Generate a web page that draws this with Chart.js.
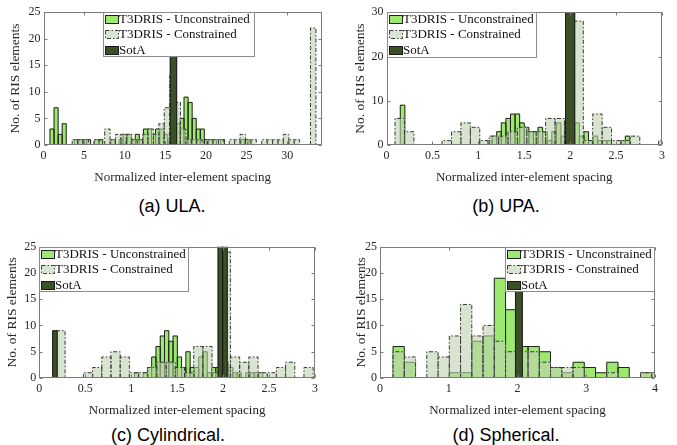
<!DOCTYPE html>
<html><head><meta charset="utf-8">
<script src="https://cdn.jsdelivr.net/npm/chart.js@4.4.1/dist/chart.umd.min.js"></script>
<style>
html,body{margin:0;padding:0;background:#fff;}
body{width:677px;height:445px;position:relative;overflow:hidden;}
canvas{position:absolute;}
.cap{position:absolute;font-family:"Liberation Sans",Arial,sans-serif;font-size:18px;color:#000;white-space:nowrap;transform:translate(-50%,-50%);}
</style></head><body>
<canvas id="cA" width="338" height="190" style="left:0;top:0"></canvas>
<canvas id="cB" width="338" height="190" style="left:339px;top:0"></canvas>
<canvas id="cC" width="338" height="200" style="left:0;top:223px"></canvas>
<canvas id="cD" width="338" height="200" style="left:339px;top:223px"></canvas>
<div class="cap" style="left:172px;top:206px">(a) ULA.</div>
<div class="cap" style="left:506px;top:206px">(b) UPA.</div>
<div class="cap" style="left:168px;top:435px">(c) Cylindrical.</div>
<div class="cap" style="left:506px;top:435px">(d) Spherical.</div>
<script>
// ---------- texts ----------
const legendLabels = ['T3DRIS - Unconstrained', 'T3DRIS - Constrained', 'SotA'];
const xTitle = 'Normalized inter-element spacing';
const yTitle = 'No. of RIS elements';

// ---------- (a) ULA ----------  bins = [first edge, bin width]
const ulaXTicks = [0, 5, 10, 15, 20, 25, 30];
const ulaYTicks = [0, 5, 10, 15, 20, 25];
const ulaUncBins = [0.8, 0.5];
const ulaUnc = [3,7,2,4,0,0,1,1,1,1,0,1,1,0,0,1,0,1,2,2,1,2,1,3,3,2,3,3,2,1,1,4,5,9,8,5,3,3,1,1,1,0,1,0,0,0,0,1,1];
const ulaConBins = [0.2, 0.6667];
const ulaCon = [0,0,0,0,0,1,1,1,0,1,0,3,1,2,2,2,1,1,2,3,2,4,7,13,8,3,1,1,1,0,1,1,1,0,1,1,2,1,1,0,1,1,1,1,2,1,1,0,0,22];
const ulaSotaBins = [15.6, 0.8];
const ulaSota = [31];

// ---------- (b) UPA ----------
const upaXTicks = [0, 0.5, 1, 1.5, 2, 2.5, 3];
const upaYTicks = [0, 10, 20, 30];
const upaUncBins = [0.15, 0.05];
const upaUnc = [9,0,0,0,0,0,0,0,0,0,0,0,0,0,0,0,0,0,0,1,2,3,5,6,7,7,5,4,3,3,4,3,1,3,5,2,1,3,5,2,3,1,2,1,1,1,0,0,1,2];
const upaConBins = [0.093, 0.1025];
const upaCon = [6,3,0,0,0,1,3,5,4,1,2,2,3,4,3,3,6,6,5,28,1,7,4,1,1,2,0,0,1];
const upaSotaBins = [1.95, 0.1];
const upaSota = [40];

// ---------- (c) Cylindrical ----------
const cylXTicks = [0, 0.5, 1, 1.5, 2, 2.5, 3];
const cylYTicks = [0, 5, 10, 15, 20, 25];
const cylUncBins = [1.037, 0.0465];
const cylUnc = [1,0,1,2,4,6,8,9,7,8,4,2,5,2,2,4,5,1,2,2,1,3,2,1,1,0,1,1,1,1];
const cylConBins = [0.18, 0.1];
const cylCon = [9,0,0,1,2,4,5,4,1,1,2,3,3,2,1,6,6,1,24,4,3,4,1,1,2,3,0,2];
const cylSotaBins = [0.145, 0.05];
const cylSota = [9,0,0,0,0,0,0,0,0,0,0,0,0,0,0,0,0,0,0,0,0,0,0,0,0,0,0,0,0,0,0,0,0,0,0,0,40,40];

// ---------- (d) Spherical ----------
const sphXTicks = [0, 1, 2, 3, 4];
const sphYTicks = [0, 5, 10, 15, 20, 25];
const sphUncBins = [0.19, 0.1636];
const sphUnc = [6,3,0,0,0,1,1,7,8,19,13,6,6,5,2,1,3,2,1,3,2,0,1,0];
const sphConBins = [0.19, 0.1636];
const sphCon = [5,4,0,5,4,8,14,8,10,7,5,5,5,3,2,2,2,0,0,1,0,0,1,1];
const sphSotaBins = [1.97, 0.1];
const sphSota = [24];

// ---------- styling ----------
const FONT = '"Liberation Serif", "Times New Roman", serif';
const TXT = '#262626';
const STYLE = [
  {fill: 'rgba(92,217,15,0.6)', line: '#202020', dash: [], order: 3},
  {fill: 'rgba(190,210,177,0.6)', line: '#3a3a3a', dash: [4, 2, 1.5, 2], order: 2},
  {fill: 'rgb(60,80,40)', line: '#1a1a1a', dash: [], order: 1}
];

function binPoints(bins, counts) {
  const start = bins[0], width = bins[1];
  return counts.map((c, i) => ({x: start + width * (i + 0.5), y: c}));
}
function edgeTicks(bins, min, max) {
  const start = bins[0], width = bins[1];
  const k0 = Math.ceil((min - start) / width - 1e-9);
  const k1 = Math.floor((max - start) / width + 1e-9);
  const t = [];
  for (let k = k0; k <= k1; k++) t.push({value: start + k * width});
  return t;
}

const outlinePlugin = {
  id: 'outline',
  afterDatasetDraw(chart, args) {
    const ds = chart.data.datasets[args.index];
    const ctx = chart.ctx, a = chart.chartArea;
    ctx.save();
    ctx.beginPath();
    ctx.rect(a.left, a.top, a.right - a.left, a.bottom - a.top);
    ctx.clip();
    ctx.strokeStyle = ds.outlineColor;
    ctx.lineWidth = 1;
    ctx.setLineDash(ds.outlineDash);
    args.meta.data.forEach(el => {
      if (Math.abs(el.base - el.y) < 0.5) return;
      const l = el.x - el.width / 2, r = el.x + el.width / 2;
      ctx.beginPath();
      ctx.moveTo(l, el.base);
      ctx.lineTo(l, el.y);
      ctx.lineTo(r, el.y);
      ctx.lineTo(r, el.base);
      ctx.stroke();
    });
    ctx.restore();
  }
};

const framePlugin = {
  id: 'frame',
  afterDatasetsDraw(chart) {
    const ctx = chart.ctx, a = chart.chartArea;
    const xs = chart.scales.x, ys = chart.scales.y;
    const L = Math.round(a.left) + 0.5, R = Math.round(a.right) - 0.5;
    const T = Math.round(a.top) + 0.5, B = Math.round(a.bottom) - 0.5;
    const tl = 3;
    ctx.save();
    ctx.strokeStyle = '#7a7a7a';
    ctx.lineWidth = 1;
    ctx.setLineDash([]);
    ctx.strokeRect(L, T, R - L, B - T);
    ctx.beginPath();
    xs.ticks.forEach(t => {
      const px = Math.round(xs.getPixelForValue(t.value)) + 0.5;
      ctx.moveTo(px, B); ctx.lineTo(px, B - tl);
      ctx.moveTo(px, T); ctx.lineTo(px, T + tl);
    });
    ys.ticks.forEach(t => {
      const py = Math.round(ys.getPixelForValue(t.value)) + 0.5;
      ctx.moveTo(L, py); ctx.lineTo(L + tl, py);
      ctx.moveTo(R, py); ctx.lineTo(R - tl, py);
    });
    ctx.stroke();
    ctx.restore();
  },
  afterDraw(chart, args, opts) {
    const lg = opts.box;
    const ctx = chart.ctx, a = chart.chartArea;
    const x0 = Math.round(lg.right ? a.right - lg.w : a.left + lg.dx);
    const y0 = Math.round(a.top);
    const rows = [6.8, 22.2, 37.6];
    ctx.save();
    ctx.fillStyle = '#fff';
    ctx.fillRect(x0, y0, lg.w, lg.h);
    ctx.strokeStyle = '#8c8c8c';
    ctx.lineWidth = 1;
    ctx.strokeRect(x0 + 0.5, y0 + 0.5, lg.w - 1, lg.h - 1);
    chart.data.datasets.forEach((ds, i) => {
      const cy = y0 + rows[i];
      const px = x0 + 2.5, pw = 13, ph = 8;
      ctx.fillStyle = ds.backgroundColor;
      ctx.fillRect(px, Math.round(cy - ph / 2) + 0.5, pw, ph);
      ctx.strokeStyle = ds.outlineColor;
      ctx.setLineDash(ds.outlineDash);
      ctx.strokeRect(px, Math.round(cy - ph / 2) + 0.5, pw, ph);
      ctx.setLineDash([]);
      ctx.fillStyle = '#111';
      ctx.font = '13px ' + FONT;
      ctx.textAlign = 'left';
      ctx.textBaseline = 'middle';
      ctx.fillText(ds.label, x0 + 16, cy + 0.5);
    });
    ctx.restore();
  }
};

function build(id, p) {
  const datasets = p.series.map((s, i) => ({
    label: legendLabels[i],
    data: binPoints(s[0], s[1]),
    xAxisID: 'xb' + i,
    backgroundColor: STYLE[i].fill,
    borderWidth: 0,
    grouped: false,
    barPercentage: 1,
    categoryPercentage: 1,
    order: STYLE[i].order,
    outlineColor: STYLE[i].line,
    outlineDash: STYLE[i].dash
  }));
  const xmin = p.xTicks[0];
  const scales = {
    x: {
      type: 'linear', position: 'bottom', min: xmin, max: p.xMax, offset: false,
      grid: {display: false, drawTicks: false, offset: false}, border: {display: false},
      afterBuildTicks: (s) => { s.ticks = p.xTicks.map(v => ({value: v})); },
      ticks: {padding: 3.5, color: TXT, font: {family: FONT, size: 12}, maxRotation: 0, autoSkip: false,
              callback: (v) => String(v)},
      title: {display: true, text: xTitle, color: TXT, font: {family: FONT, size: 13}, padding: {top: 0, bottom: 4.5}},
      afterFit: (s) => { s.height = 45; }
    },
    y: {
      type: 'linear', position: 'left', min: 0, max: p.yTicks[p.yTicks.length - 1],
      grid: {display: false, drawTicks: false}, border: {display: false},
      afterBuildTicks: (s) => { s.ticks = p.yTicks.map(v => ({value: v})); },
      ticks: {padding: 3, color: TXT, font: {family: FONT, size: 12}, autoSkip: false},
      title: {display: true, text: yTitle, color: TXT, font: {family: FONT, size: 13.5}, padding: {top: p.yTitlePad, bottom: 0}},
      afterFit: (s) => { s.width = p.yWidth; }
    }
  };
  p.series.forEach((s, i) => {
    scales['xb' + i] = {
      type: 'linear', axis: 'x', position: 'bottom', display: false,
      min: xmin, max: p.xMax, offset: false, grid: {offset: false},
      ticks: {autoSkip: false, display: false},
      afterBuildTicks: (sc) => { sc.ticks = edgeTicks(s[0], xmin, p.xMax); }
    };
  });
  new Chart(document.getElementById(id), {
    type: 'bar',
    data: {datasets},
    options: {
      responsive: false, animation: false, events: [],
      layout: {padding: {left: 0, top: p.pad[0], right: p.pad[1], bottom: 0}},
      plugins: {legend: {display: false}, tooltip: {enabled: false}, frame: {box: p.legend}},
      scales
    },
    plugins: [outlinePlugin, framePlugin]
  });
}

build('cA', {
  xTicks: ulaXTicks, xMax: 34.25, yTicks: ulaYTicks,
  series: [[ulaUncBins, ulaUnc], [ulaConBins, ulaCon], [ulaSotaBins, ulaSota]],
  pad: [12, 16.3], yWidth: 43.5, yTitlePad: 7.5,
  legend: {dx: 59.5, w: 152, h: 45}
});
build('cB', {
  xTicks: upaXTicks, xMax: 3, yTicks: upaYTicks,
  series: [[upaUncBins, upaUnc], [upaConBins, upaCon], [upaSotaBins, upaSota]],
  pad: [12.3, 15], yWidth: 47.5, yTitlePad: 13.8,
  legend: {dx: 0, w: 150, h: 46}
});
build('cC', {
  xTicks: cylXTicks, xMax: 3, yTicks: cylYTicks,
  series: [[cylUncBins, cylUnc], [cylConBins, cylCon], [cylSotaBins, cylSota]],
  pad: [23.7, 23], yWidth: 39.3, yTitlePad: 4.3,
  legend: {dx: 0, w: 150, h: 45}
});
build('cD', {
  xTicks: sphXTicks, xMax: 4, yTicks: sphYTicks,
  series: [[sphUncBins, sphUnc], [sphConBins, sphCon], [sphSotaBins, sphSota]],
  pad: [23.7, 22], yWidth: 41, yTitlePad: 14.3,
  legend: {right: true, dx: 0, w: 150, h: 45}
});
</script>
</body></html>
